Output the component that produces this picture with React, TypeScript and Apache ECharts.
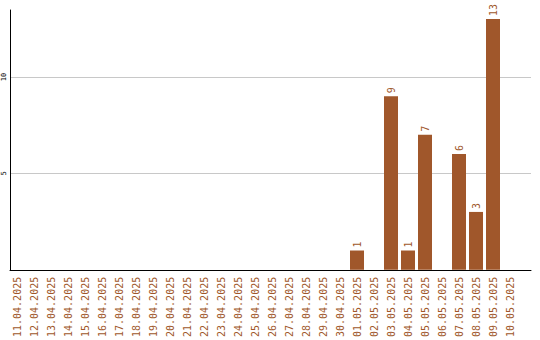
import React, { useEffect, useRef } from "react";
import * as echarts from "echarts";

const dates = [
  "11.04.2025", "12.04.2025", "13.04.2025", "14.04.2025", "15.04.2025",
  "16.04.2025", "17.04.2025", "18.04.2025", "19.04.2025", "20.04.2025",
  "21.04.2025", "22.04.2025", "23.04.2025", "24.04.2025", "25.04.2025",
  "26.04.2025", "27.04.2025", "28.04.2025", "29.04.2025", "30.04.2025",
  "01.05.2025", "02.05.2025", "03.05.2025", "04.05.2025", "05.05.2025",
  "06.05.2025", "07.05.2025", "08.05.2025", "09.05.2025", "10.05.2025",
];

const counts = [
  0, 0, 0, 0, 0, 0, 0, 0, 0, 0,
  0, 0, 0, 0, 0, 0, 0, 0, 0, 0,
  1, 0, 9, 1, 7, 0, 6, 3, 13, 0,
];

const yTicks = { min: 0, max: 13.47, interval: 5 };

const BROWN = "#a0572b";
const MONO = "'DejaVu Sans Mono', 'Liberation Mono', monospace";

export default function App() {
  const ref = useRef<HTMLDivElement>(null);

  useEffect(() => {
    if (!ref.current) return;
    const chart = echarts.init(ref.current, null, { renderer: "svg" });
    chart.setOption({
      animation: false,
      backgroundColor: "#ffffff",
      grid: [
        { left: 10, right: 9, top: 10, bottom: 70 },
        { left: 8.5, width: 510, top: 10, bottom: 70 },
      ],
      xAxis: [
        {
          gridIndex: 0,
          type: "value",
          min: 0,
          max: 1,
          axisLine: { show: true, onZero: false, lineStyle: { color: "#000", width: 1 } },
          axisTick: { show: false },
          axisLabel: { show: false },
          splitLine: { show: false },
        },
        {
          gridIndex: 1,
          type: "category",
          data: dates,
          boundaryGap: true,
          axisLine: { show: false },
          axisTick: { show: false },
          axisLabel: {
            interval: 0,
            rotate: 90,
            margin: 7,
            color: BROWN,
            fontFamily: MONO,
            fontSize: 10,
          },
        },
      ],
      yAxis: [
        {
          gridIndex: 0,
          type: "value",
          min: yTicks.min,
          max: yTicks.max,
          interval: yTicks.interval,
          axisLine: { show: true, lineStyle: { color: "#000", width: 1 } },
          axisTick: { show: false },
          splitLine: {
            show: true,
            showMinLine: false,
            showMaxLine: false,
            lineStyle: { color: "#c8c8c8", width: 1 },
          },
          axisLabel: {
            showMinLabel: false,
            showMaxLabel: false,
            rotate: 90,
            margin: 3,
            color: "#000",
            fontFamily: MONO,
            fontSize: 7,
          },
        },
        {
          gridIndex: 1,
          type: "value",
          min: yTicks.min,
          max: yTicks.max,
          show: false,
          splitLine: { show: false },
        },
      ],
      series: [
        {
          type: "bar",
          xAxisIndex: 1,
          yAxisIndex: 1,
          data: counts,
          barWidth: 14,
          itemStyle: { color: BROWN },
          label: {
            show: true,
            position: "top",
            rotate: 90,
            align: "left",
            verticalAlign: "middle",
            distance: 3,
            color: BROWN,
            fontFamily: MONO,
            fontSize: 10,
            formatter: (p: any) => (p.value ? String(p.value) : ""),
          },
        },
      ],
    });
    return () => chart.dispose();
  }, []);

  return (
    <div
      ref={ref}
      style={{ position: "fixed", left: 0, top: 0, width: 540, height: 340 }}
    />
  );
}
